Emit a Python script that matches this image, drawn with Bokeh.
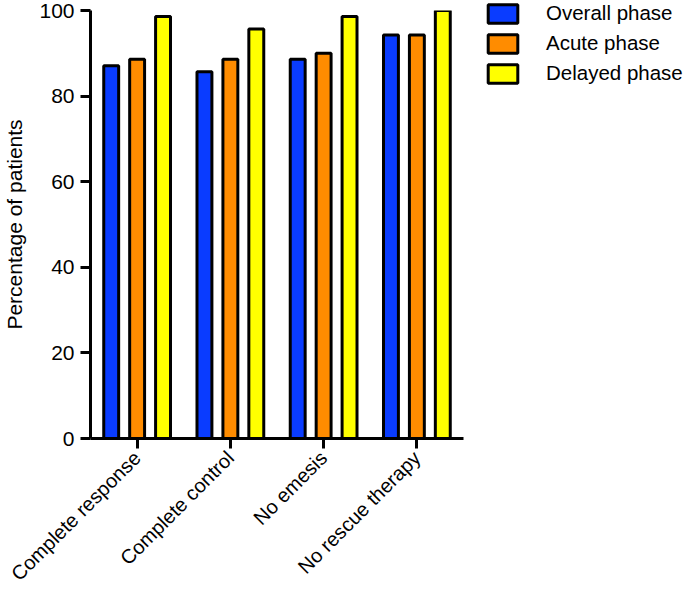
import math
from bokeh.plotting import figure
from bokeh.layouts import row, column
from bokeh.models import FactorRange, Range1d, Legend, LegendItem, ColumnDataSource, FixedTicker
from bokeh.transform import dodge
from bokeh.embed import file_html
from bokeh.resources import INLINE

categories = ["Complete response", "Complete control", "No emesis", "No rescue therapy"]
overall = [87.1, 85.7, 88.6, 94.3]
acute = [88.6, 88.6, 90.0, 94.3]
delayed = [98.6, 95.7, 98.6, 100.0]
series_names = ["Overall phase", "Acute phase", "Delayed phase"]
colors = ["#0a3cff", "#ff8c00", "#ffff00"]
y_ticks = [0, 20, 40, 60, 80, 100]

FONT = "Liberation Sans"

source = ColumnDataSource(data=dict(cat=categories, overall=overall, acute=acute, delayed=delayed))

xr = FactorRange(*categories, range_padding=0)
p = figure(x_range=xr, y_range=Range1d(0, 100),
           width=471, height=595, output_backend="svg", toolbar_location=None,
           min_border_left=88, min_border_right=8, min_border_top=10, min_border_bottom=152)

offsets = [-0.278, 0.0, 0.278]
cols = ["overall", "acute", "delayed"]
for col, off, c in zip(cols, offsets, colors):
    p.vbar(x=dodge("cat", off, range=xr), top=col, width=0.16, bottom=0,
           source=source, fill_color=c, line_color="black", line_width=3)

p.xgrid.visible = False
p.ygrid.visible = False
p.outline_line_color = None

for ax in (p.xaxis[0], p.yaxis[0]):
    ax.axis_line_width = 3
    ax.axis_line_color = "black"
    ax.major_tick_line_width = 3
    ax.major_tick_line_color = "black"
    ax.major_tick_out = 10
    ax.major_tick_in = 0
    ax.minor_tick_line_color = None
    ax.major_label_text_font = FONT
    ax.major_label_text_color = "black"

p.yaxis.ticker = FixedTicker(ticks=y_ticks)
p.yaxis.major_label_text_font_size = "21px"
p.yaxis.major_label_standoff = 6
p.yaxis.axis_label = "Percentage of patients"
p.yaxis.axis_label_text_font = FONT
p.yaxis.axis_label_text_font_size = "21px"
p.yaxis.axis_label_text_font_style = "normal"
p.yaxis.axis_label_text_color = "black"
p.yaxis.axis_label_standoff = 10

p.xaxis.major_label_orientation = math.pi / 4
p.xaxis.major_label_text_font_size = "20px"
p.xaxis.major_label_standoff = 6

# legend panel: same series as hidden renderers, so that only the legend shows
lf = figure(x_range=xr, y_range=Range1d(0, 100), width=214, height=595,
            output_backend="svg", toolbar_location=None,
            x_axis_location=None, y_axis_location=None,
            min_border_left=12, min_border_right=0, min_border_top=0, min_border_bottom=0)
lf.xgrid.visible = False
lf.ygrid.visible = False
lf.outline_line_color = None
lrs = []
for col, off, c in zip(cols, offsets, colors):
    r = lf.vbar(x=dodge("cat", off, range=xr), top=col, width=0.16, bottom=0,
                source=source, fill_color=c, line_color="black", line_width=3)
    r.visible = False
    lrs.append(r)

legend = Legend(items=[LegendItem(label=n, renderers=[r]) for n, r in zip(series_names, lrs)],
                location="top_left", orientation="vertical")
legend.padding = 0
legend.margin = 1
legend.spacing = 6
legend.glyph_width = 37
legend.glyph_height = 23
legend.label_height = 24
legend.label_standoff = 25
legend.label_text_font = FONT
legend.label_text_font_size = "20.5px"
legend.label_text_color = "black"
legend.border_line_alpha = 0
legend.background_fill_alpha = 0
legend.inactive_fill_alpha = 0
lf.add_layout(legend, "center")

layout = row(p, column(lf))
open("out.html", "w").write(file_html(layout, INLINE))
